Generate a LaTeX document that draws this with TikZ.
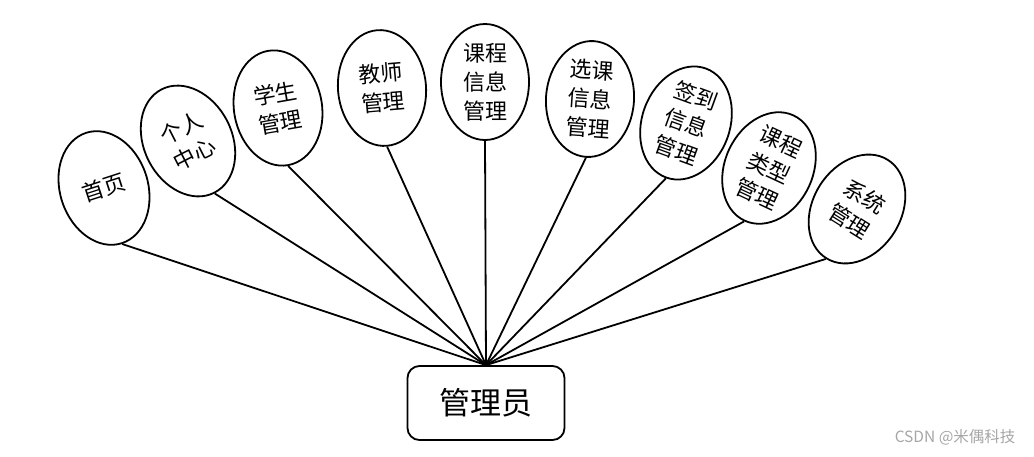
\documentclass[tikz,border=0pt]{standalone}
\usepackage{fontspec}
\usepackage{xcolor}
\usepackage{tikz}
\usetikzlibrary{shapes.geometric}
\newfontfamily\cjk{Noto Sans CJK SC}
\newcommand{\two}[2]{#1\\#2}

\begin{document}
\begin{tikzpicture}[x=1pt,y=-1pt,
                    leaf/.style={draw,ellipse,line width=1.8pt,minimum width=88pt,minimum height=116pt,
                                 inner sep=0pt,align=center,font=\cjk\fontsize{22}{29}\selectfont},
                    root/.style={draw,rounded corners=12pt,line width=1.8pt,minimum width=157pt,
                                 minimum height=74pt,font=\cjk\fontsize{31}{36}\selectfont},
                    edge/.style={line width=1.8pt}]
  \useasboundingbox (0,0) rectangle (1034,456);
  % admin box
  \node[root] (admin) at (486,403) {管理员};
  % module ellipses
  \node[leaf,rotate=18]  (home)    at (104,188) {首页};
  \node[leaf,rotate=27]  (center)  at (188,141) {\two{个人}{中心}};
  \node[leaf,rotate=10]  (student) at (278,108) {\two{学生}{管理}};
  \node[leaf,rotate=5]   (teacher) at (382,88)  {\two{教师}{管理}};
  \node[leaf]            (course)  at (485,82)  {课程\\信息\\管理};
  \node[leaf,rotate=-4]  (choose)  at (590,99)  {选课\\信息\\管理};
  \node[leaf,rotate=-20] (sign)    at (686,123) {签到\\信息\\管理};
  \node[leaf,rotate=-25] (ctype)   at (769,168) {课程\\类型\\管理};
  \node[leaf,rotate=-32] (system)  at (857,209) {\two{系统}{管理}};
  % edges
  \draw[edge] (admin.north)--(home.south); \draw[edge] (admin.north)--(center.south);
  \draw[edge] (admin.north)--(student.south); \draw[edge] (admin.north)--(teacher.south);
  \draw[edge] (admin.north)--(course.south); \draw[edge] (admin.north)--(choose.south);
  \draw[edge] (admin.north)--(sign.south); \draw[edge] (admin.north)--(ctype.south);
  \draw[edge] (admin.north)--(system.south);
  % watermark
  \node[anchor=east,text=gray!70,font=\cjk\fontsize{15.5}{17}\selectfont] (mark) at (1019,437) {CSDN @米偶科技};
\end{tikzpicture}
\end{document}
